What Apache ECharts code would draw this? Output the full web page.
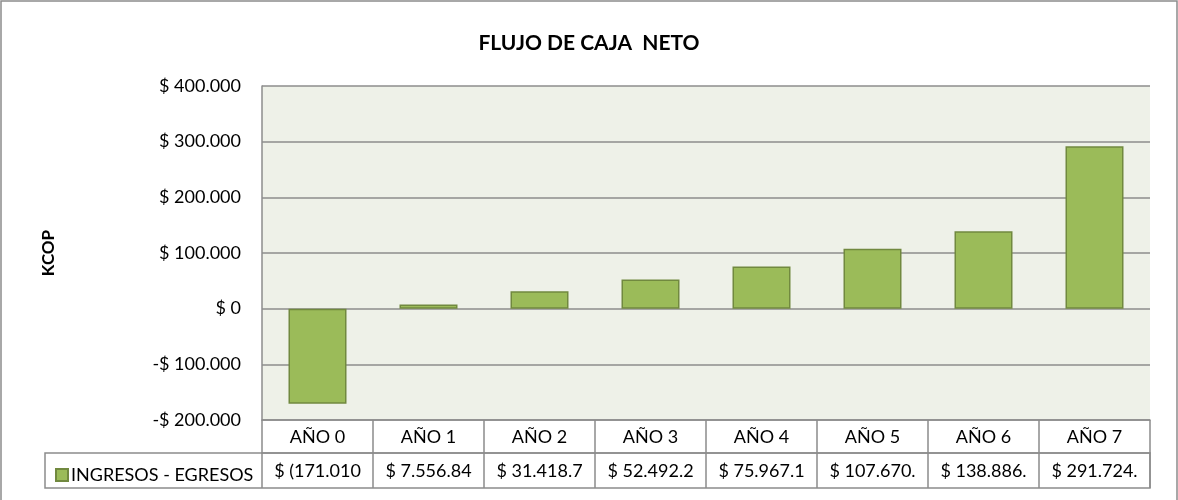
<!DOCTYPE html>
<html>
<head>
<meta charset="utf-8">
<script src="https://cdn.jsdelivr.net/npm/echarts@6/dist/echarts.min.js"></script>
<style>
  html, body { margin: 0; padding: 0; background: #fff; }
  #chart { width: 1178px; height: 500px; }
</style>
</head>
<body>
<div id="chart"></div>
<script>
// datos
var categories = ['AÑO 0', 'AÑO 1', 'AÑO 2', 'AÑO 3', 'AÑO 4', 'AÑO 5', 'AÑO 6', 'AÑO 7'];
var flujoNeto = [-171010, 7556.84, 31418.7, 52492.2, 75967.1, 107670, 138886, 291724];
// texto tal como aparece (recortado) en la tabla de datos
var tableLabels = ['$ (171.010', '$ 7.556.84', '$ 31.418.7', '$ 52.492.2', '$ 75.967.1', '$ 107.670.', '$ 138.886.', '$ 291.724.'];
var yTicks = { min: -200000, max: 400000, interval: 100000 };

var font = 'Lato, "Open Sans", sans-serif';
var lineColor = '#8c8c8c';

function money(v) {
    var s = Math.abs(v).toString().replace(/\B(?=(\d{3})+(?!\d))/g, '.');
    return (v < 0 ? '-$ ' : '$ ') + s;
}

var dom = document.getElementById('chart');
var myChart = echarts.init(dom);

var option = {
    backgroundColor: '#fff',
    animation: false,
    title: {
        text: 'FLUJO DE CAJA  NETO',
        left: 'center',
        top: 28,
        textStyle: { fontFamily: font, fontSize: 21, fontWeight: 'bold', color: '#000' }
    },
    legend: {
        data: ['INGRESOS - EGRESOS'],
        left: 50,
        top: 461,
        icon: 'rect',
        itemWidth: 12,
        itemHeight: 12,
        itemGap: 4,
        textStyle: { fontFamily: font, fontSize: 18, color: '#000', padding: [0, 0, 0, -2] }
    },
    grid: { left: 262, right: 28, top: 86, bottom: 80, containLabel: false, show: true, backgroundColor: '#eef1e8', borderWidth: 0 },
    xAxis: [{
        type: 'category',
        data: categories,
        position: 'bottom',
        axisLine: { show: true, onZero: false, lineStyle: { color: lineColor, width: 1.5 } },
        axisTick: { show: true, interval: 0, length: 68, lineStyle: { color: lineColor, width: 1.5 } },
        axisLabel: { interval: 0, margin: 8, fontFamily: font, fontSize: 18, color: '#000' }
    }, {
        type: 'category',
        data: tableLabels,
        position: 'bottom',
        offset: 33,
        axisLine: { show: true, onZero: false, lineStyle: { color: lineColor, width: 1.5 } },
        axisTick: { show: false },
        axisLabel: { interval: 0, margin: 9, fontFamily: font, fontSize: 18, color: '#000' }
    }],
    yAxis: {
        type: 'value',
        min: yTicks.min,
        max: yTicks.max,
        interval: yTicks.interval,
        name: 'KCOP',
        nameLocation: 'middle',
        nameGap: 205,
        nameRotate: 90,
        nameTextStyle: { fontFamily: font, fontSize: 17, fontWeight: 'bold', color: '#000' },
        axisLine: { show: true, lineStyle: { color: lineColor, width: 1.5 } },
        axisTick: { show: false },
        splitLine: { show: true, lineStyle: { color: lineColor, width: 1.5 } },
        axisLabel: { margin: 21, fontFamily: font, fontSize: 18, color: '#000', formatter: money }
    },
    graphic: [{
        type: 'rect',
        shape: { x: 45, y: 453, width: 1105, height: 35 },
        style: { fill: 'none', stroke: lineColor, lineWidth: 1.5 },
        z: 10
    }, {
        type: 'polyline',
        shape: { points: [[1, 500], [1, 1], [1177, 1], [1177, 500]] },
        style: { fill: 'none', stroke: '#8c8c8c', lineWidth: 1.5 },
        z: 10
    }],
    series: [{
        name: 'INGRESOS - EGRESOS',
        type: 'bar',
        data: flujoNeto,
        barWidth: 58,
        itemStyle: { color: '#9bbb59', borderColor: '#71893f', borderWidth: 1.5 }
    }]
};
myChart.setOption(option, true);
</script>
</body>
</html>
